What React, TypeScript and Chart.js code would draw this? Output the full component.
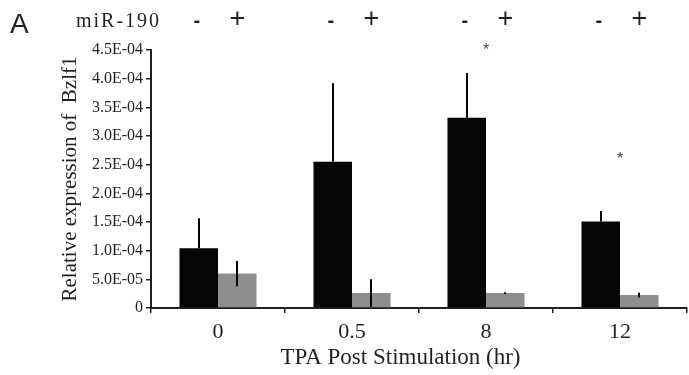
import React, { useEffect, useRef } from "react";
import { Chart, registerables } from "chart.js";

Chart.register(...registerables);

const categories = ["0", "0.5", "8", "12"];
const minusMiR = [1.04e-4, 2.55e-4, 3.32e-4, 1.51e-4];
const minusMiRErr = [0.525e-4, 1.37e-4, 0.78e-4, 0.18e-4];
const plusMiR = [6.0e-5, 2.6e-5, 2.6e-5, 2.25e-5];
const plusMiRErr = [2.2e-5, 2.4e-5, 0.15e-5, 0.4e-5];
const significanceLevel = [null, null, 4.57e-4, 2.67e-4];
const treatmentMarks = ["-", "+"];
const panelLetter = "A";
const treatmentLabel = "miR-190";
const yTitle = "Relative expression of  Bzlf1";
const xTitle = "TPA Post Stimulation (hr)";
const yMax = 4.5e-4;
const yStep = 5e-5;

const TEXT = "#231f20";

function formatTick(v: number): string {
  if (Math.abs(v) < 1e-12) return "0";
  const s = v.toExponential(1);
  const [m, e] = s.split("e");
  const ei = parseInt(e, 10);
  const sign = ei < 0 ? "-" : "+";
  return `${m}E${sign}${String(Math.abs(ei)).padStart(2, "0")}`;
}

const errorBarPlugin = {
  id: "errorBars",
  afterDatasetsDraw(chart: any) {
    const ctx = chart.ctx;
    const yScale = chart.scales.y;
    ctx.save();
    ctx.strokeStyle = "#000";
    ctx.lineWidth = 2;
    chart.data.datasets.forEach((ds: any, di: number) => {
      const meta = chart.getDatasetMeta(di);
      meta.data.forEach((el: any, i: number) => {
        const v = ds.data[i];
        const err = ds.errors[i];
        const top = yScale.getPixelForValue(v + err);
        const bottom = ds.upOnly ? yScale.getPixelForValue(v) : yScale.getPixelForValue(Math.max(0, v - err));
        ctx.beginPath();
        ctx.moveTo(Math.round(el.x), top);
        ctx.lineTo(Math.round(el.x), bottom);
        ctx.stroke();
      });
    });
    ctx.restore();
  },
};

const annotationPlugin = {
  id: "annotations",
  afterDraw(chart: any) {
    const ctx = chart.ctx;
    const yScale = chart.scales.y;
    const xScale = chart.scales.x;
    ctx.save();
    ctx.fillStyle = TEXT;
    // panel letter
    ctx.font = "28px 'Liberation Sans'";
    ctx.textAlign = "left";
    ctx.textBaseline = "alphabetic";
    ctx.fillText(panelLetter, 10, 33);
    // treatment label
    ctx.font = "20px 'Liberation Serif'";
    (ctx as any).letterSpacing = "2px";
    ctx.fillText(treatmentLabel, 76, 27);
    (ctx as any).letterSpacing = "0px";
    // x axis title
    ctx.font = "23px 'Liberation Serif'";
    ctx.textAlign = "center";
    ctx.fillText(xTitle, 400.5, 364);
    // - / + marks above bars
    chart.data.datasets.forEach((ds: any, di: number) => {
      const meta = chart.getDatasetMeta(di);
      meta.data.forEach((el: any) => {
        ctx.textAlign = "center";
        if (treatmentMarks[di] === "-") {
          ctx.font = "bold 20px 'Liberation Sans'";
          ctx.fillText(treatmentMarks[di], el.x - 2, 27);
        } else {
          ctx.font = "27px 'Liberation Sans'";
          ctx.fillText(treatmentMarks[di], el.x, 27);
        }
      });
    });
    // significance asterisks
    ctx.font = "16px 'Liberation Sans'";
    ctx.fillStyle = "#444";
    ctx.textAlign = "center";
    significanceLevel.forEach((lvl, i) => {
      if (lvl == null) return;
      const x = xScale.getPixelForValue(i);
      const y = yScale.getPixelForValue(lvl);
      ctx.fillText("*", x, y + 9.5);
    });
    ctx.restore();
  },
};

export default function App() {
  const ref = useRef<HTMLCanvasElement | null>(null);
  useEffect(() => {
    document.body.style.margin = "0";
    const canvas = ref.current;
    if (!canvas) return;
    const chart = new Chart(canvas, {
      type: "bar",
      data: {
        labels: categories,
        datasets: [
          {
            label: "miR-190 -",
            data: minusMiR,
            errors: minusMiRErr,
            upOnly: true,
            backgroundColor: "#060606",
            borderWidth: 0,
            categoryPercentage: 0.575,
            barPercentage: 1,
          } as any,
          {
            label: "miR-190 +",
            data: plusMiR,
            errors: plusMiRErr,
            upOnly: false,
            backgroundColor: "#8e8e8e",
            borderWidth: 0,
            categoryPercentage: 0.575,
            barPercentage: 1,
          } as any,
        ],
      },
      options: {
        responsive: false,
        animation: false,
        devicePixelRatio: 1,
        layout: { padding: { left: 58, top: 50, right: 2, bottom: 0 } },
        plugins: {
          legend: { display: false },
          tooltip: { enabled: false },
        },
        scales: {
          x: {
            grid: {
              display: true,
              drawOnChartArea: false,
              drawTicks: true,
              tickLength: 5,
              color: TEXT,
              lineWidth: 1.5,
            },
            border: { display: true, color: TEXT, width: 2 },
            ticks: {
              color: TEXT,
              font: { family: "'Liberation Serif'", size: 22 },
              padding: 6,
            },
            title: { display: false },
            afterFit: (s: any) => {
              s.height = 67;
            },
          },
          y: {
            min: 0,
            max: yMax,
            grid: {
              display: true,
              drawOnChartArea: false,
              drawTicks: true,
              tickLength: 5,
              color: TEXT,
              lineWidth: 1.5,
            },
            border: { display: true, color: TEXT, width: 2 },
            ticks: {
              stepSize: yStep,
              color: TEXT,
              font: { family: "'Liberation Serif'", size: 16 },
              padding: 3,
              callback: (v: any) => formatTick(Number(v)),
            },
            title: {
              display: true,
              text: yTitle,
              color: TEXT,
              font: { family: "'Liberation Serif'", size: 21 },
              padding: { top: 0, bottom: 0 },
            },
            afterFit: (s: any) => {
              s.width = 93;
            },
          },
        },
      },
      plugins: [errorBarPlugin, annotationPlugin],
    });
    return () => chart.destroy();
  }, []);
  return (
    <div style={{ width: 689, height: 375 }}>
      <canvas ref={ref} width={689} height={375} style={{ width: 689, height: 375, display: "block" }} />
    </div>
  );
}
